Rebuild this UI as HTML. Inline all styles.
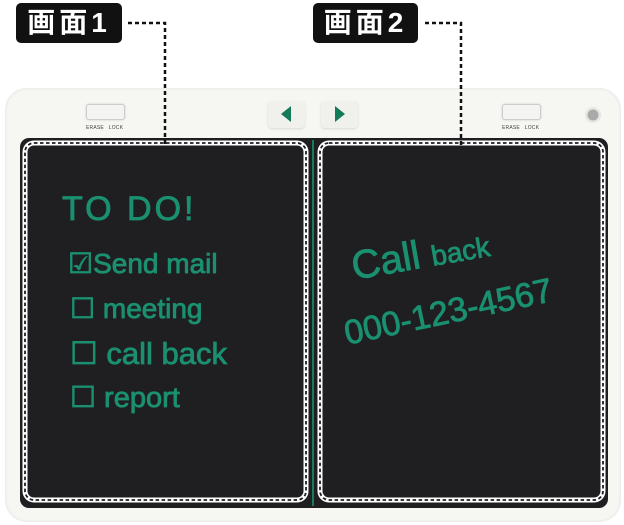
<!DOCTYPE html>
<html><head><meta charset="utf-8"><style>
body{margin:0;width:624px;height:525px;background:#fff;position:relative;overflow:hidden;font-family:"Liberation Sans","Noto Sans CJK JP",sans-serif}
.a{position:absolute}
.lbl{background:#111;color:#fff;border-radius:5px;font-size:28px;font-weight:bold;text-align:center;line-height:40px;letter-spacing:4px}
.hw{color:#1a9070;font-family:"Liberation Sans",sans-serif;white-space:nowrap;position:absolute;-webkit-text-stroke:0.8px #1a9070}
.sw{border:1px solid #ccc;border-radius:3px;background:#f4f4f2;box-shadow:0 0 2px #ccc}
.tiny{font-size:5px;color:#444;letter-spacing:.2px}
.btn{background:#f0f0ec;border-radius:4px;box-shadow:0 1px 2px #d8d8d4}
</style></head><body>
<div class="a lbl" style="left:16px;top:3px;width:106px;height:40px">画面1</div>
<div class="a lbl" style="left:313px;top:3px;width:105px;height:40px">画面2</div>
<div class="a" style="left:5px;top:88px;width:616px;height:434px;background:#f6f6f3;border-radius:22px;box-shadow:0 0 3px #ddd inset"></div>
<div class="a" style="left:20px;top:138px;width:588px;height:370px;background:#1f1f22;border-radius:9px"></div>
<div class="a" style="left:312px;top:140px;width:2px;height:366px;background:#1a7a5c"></div>
<svg class="a" style="left:0;top:0" width="624" height="525">
<g fill="none">
<rect x="25" y="143" width="281" height="357" rx="9" stroke="#fff" stroke-width="5"/>
<rect x="25" y="143" width="281" height="357" rx="9" stroke="#1f1f22" stroke-width="1.8" stroke-dasharray="3.5 2.5"/>
<rect x="320" y="143" width="283" height="357" rx="9" stroke="#fff" stroke-width="5"/>
<rect x="320" y="143" width="283" height="357" rx="9" stroke="#1f1f22" stroke-width="1.8" stroke-dasharray="3.5 2.5"/>
<path d="M128 23H165V145M425 23H461V145" stroke="#111" stroke-width="2.5" stroke-dasharray="4 3"/>
</g>
<circle cx="593" cy="115" r="8" fill="#e6e6e2"/><circle cx="593" cy="115" r="5.5" fill="#aaa"/>
</svg>
<div class="a sw" style="left:86px;top:104px;width:37px;height:14px"></div>
<div class="a tiny" style="left:86px;top:125px">ERASE&nbsp;&nbsp;&nbsp;LOCK</div>
<div class="a sw" style="left:502px;top:104px;width:37px;height:14px"></div>
<div class="a tiny" style="left:502px;top:125px">ERASE&nbsp;&nbsp;&nbsp;LOCK</div>
<div class="a btn" style="left:268px;top:101px;width:37px;height:27px"></div>
<div class="a btn" style="left:321px;top:101px;width:37px;height:27px"></div>
<svg class="a" style="left:0;top:0" width="624" height="525"><path d="M291 106V122L281 114Z M335 106V122L345 114Z" fill="#137a5a"/></svg>
<div class="hw" style="left:62px;top:190px;font-size:34px;letter-spacing:3px">TO DO!</div>
<div class="hw" style="left:68px;top:247px;font-size:28px">☑Send mail</div>
<div class="hw" style="left:70px;top:292px;font-size:28px">☐ meeting</div>
<div class="hw" style="left:70px;top:336px;font-size:31px">☐ call back</div>
<div class="hw" style="left:70px;top:380px;font-size:29px">☐ report</div>
<div class="hw" style="left:352px;top:245px;font-size:40px;transform:rotate(-10deg);transform-origin:left center">Call <span style="font-size:28px">back</span></div>
<div class="hw" style="left:345px;top:315px;font-size:34px;transform:rotate(-12deg);transform-origin:left center">000-123-4567</div>
</body></html>
